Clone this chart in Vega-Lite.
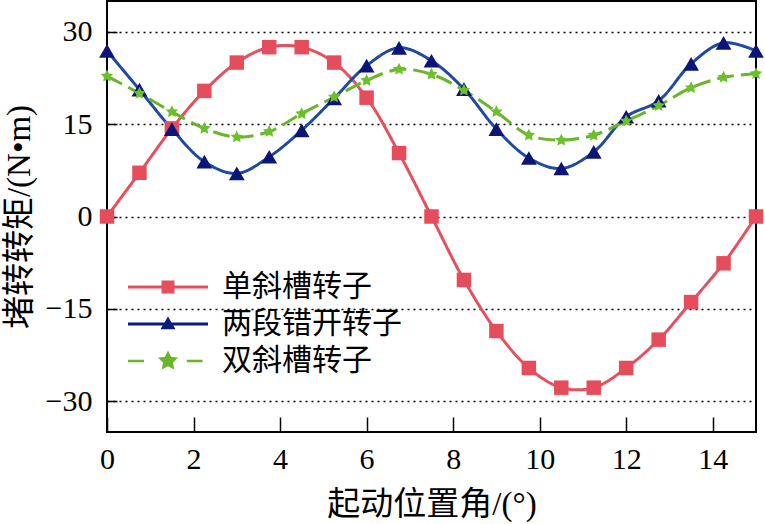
{
  "$schema": "https://vega.github.io/schema/vega-lite/v6.json",
  "width": 649,
  "height": 431,
  "autosize": "none",
  "padding": {"left": 107, "top": 1, "right": 9, "bottom": 92},
  "background": "white",
  "data": {
    "values": [
      {"x": 0, "y": 0, "s": "单斜槽转子"},
      {"x": 0.75, "y": 7.1, "s": "单斜槽转子"},
      {"x": 1.5, "y": 14.3, "s": "单斜槽转子"},
      {"x": 2.25, "y": 20.4, "s": "单斜槽转子"},
      {"x": 3, "y": 25, "s": "单斜槽转子"},
      {"x": 3.75, "y": 27.5, "s": "单斜槽转子"},
      {"x": 4.5, "y": 27.5, "s": "单斜槽转子"},
      {"x": 5.25, "y": 25, "s": "单斜槽转子"},
      {"x": 6, "y": 19.3, "s": "单斜槽转子"},
      {"x": 6.75, "y": 10.3, "s": "单斜槽转子"},
      {"x": 7.5, "y": 0, "s": "单斜槽转子"},
      {"x": 8.25, "y": -10.3, "s": "单斜槽转子"},
      {"x": 9, "y": -18.6, "s": "单斜槽转子"},
      {"x": 9.75, "y": -24.6, "s": "单斜槽转子"},
      {"x": 10.5, "y": -27.8, "s": "单斜槽转子"},
      {"x": 11.25, "y": -27.8, "s": "单斜槽转子"},
      {"x": 12, "y": -24.6, "s": "单斜槽转子"},
      {"x": 12.75, "y": -20, "s": "单斜槽转子"},
      {"x": 13.5, "y": -13.9, "s": "单斜槽转子"},
      {"x": 14.25, "y": -7.6, "s": "单斜槽转子"},
      {"x": 15, "y": 0, "s": "单斜槽转子"},
      {"x": 0, "y": 26.9, "s": "两段错开转子"},
      {"x": 0.75, "y": 20.6, "s": "两段错开转子"},
      {"x": 1.5, "y": 14.2, "s": "两段错开转子"},
      {"x": 2.25, "y": 8.9, "s": "两段错开转子"},
      {"x": 3, "y": 7.0, "s": "两段错开转子"},
      {"x": 3.75, "y": 9.7, "s": "两段错开转子"},
      {"x": 4.5, "y": 14.0, "s": "两段错开转子"},
      {"x": 5.25, "y": 19.2, "s": "两段错开转子"},
      {"x": 6, "y": 24.5, "s": "两段错开转子"},
      {"x": 6.75, "y": 27.4, "s": "两段错开转子"},
      {"x": 7.5, "y": 25.3, "s": "两段错开转子"},
      {"x": 8.25, "y": 20.7, "s": "两段错开转子"},
      {"x": 9, "y": 14.2, "s": "两段错开转子"},
      {"x": 9.75, "y": 9.5, "s": "两段错开转子"},
      {"x": 10.5, "y": 7.8, "s": "两段错开转子"},
      {"x": 11.25, "y": 10.5, "s": "两段错开转子"},
      {"x": 12, "y": 16.2, "s": "两段错开转子"},
      {"x": 12.75, "y": 18.8, "s": "两段错开转子"},
      {"x": 13.5, "y": 24.8, "s": "两段错开转子"},
      {"x": 14.25, "y": 28.2, "s": "两段错开转子"},
      {"x": 15, "y": 26.9, "s": "两段错开转子"},
      {"x": 0, "y": 22.8, "s": "双斜槽转子"},
      {"x": 0.75, "y": 20.0, "s": "双斜槽转子"},
      {"x": 1.5, "y": 17.0, "s": "双斜槽转子"},
      {"x": 2.25, "y": 14.3, "s": "双斜槽转子"},
      {"x": 3, "y": 12.9, "s": "双斜槽转子"},
      {"x": 3.75, "y": 13.8, "s": "双斜槽转子"},
      {"x": 4.5, "y": 16.7, "s": "双斜槽转子"},
      {"x": 5.25, "y": 19.4, "s": "双斜槽转子"},
      {"x": 6, "y": 22.1, "s": "双斜槽转子"},
      {"x": 6.75, "y": 23.9, "s": "双斜槽转子"},
      {"x": 7.5, "y": 23.1, "s": "双斜槽转子"},
      {"x": 8.25, "y": 20.5, "s": "双斜槽转子"},
      {"x": 9, "y": 17.0, "s": "双斜槽转子"},
      {"x": 9.75, "y": 13.2, "s": "双斜槽转子"},
      {"x": 10.5, "y": 12.4, "s": "双斜槽转子"},
      {"x": 11.25, "y": 13.2, "s": "双斜槽转子"},
      {"x": 12, "y": 15.5, "s": "双斜槽转子"},
      {"x": 12.75, "y": 18.0, "s": "双斜槽转子"},
      {"x": 13.5, "y": 20.9, "s": "双斜槽转子"},
      {"x": 14.25, "y": 22.6, "s": "双斜槽转子"},
      {"x": 15, "y": 23.2, "s": "双斜槽转子"}
    ]
  },
  "encoding": {
    "x": {
      "field": "x",
      "type": "quantitative",
      "scale": {"domain": [0, 15], "nice": false, "zero": false},
      "axis": {
        "values": [0, 2, 4, 6, 8, 10, 12, 14],
        "tickSize": -15,
        "labelPadding": 27,
        "labelFlush": false,
        "grid": false,
        "title": "起动位置角/(°)",
        "titlePadding": 14
      }
    },
    "y": {
      "field": "y",
      "type": "quantitative",
      "scale": {"domain": [-35, 35], "nice": false, "zero": false},
      "axis": {
        "values": [-30, -15, 0, 15, 30],
        "tickSize": -10,
        "labelPadding": 25,
        "labelFlush": false,
        "grid": true,
        "gridDash": [2, 4],
        "gridColor": "#000",
        "gridWidth": 1.3,
        "title": "堵转转矩/(N•m)",
        "titlePadding": 9
      }
    }
  },
  "layer": [
    {
      "mark": {"type": "line", "interpolate": "catmull-rom", "strokeWidth": 3},
      "encoding": {
        "stroke": {
          "field": "s",
          "type": "nominal",
          "scale": {
            "domain": ["单斜槽转子", "两段错开转子", "双斜槽转子"],
            "range": ["#e5505e", "#1f4aa0", "#6bb52b"]
          },
          "legend": {
            "orient": "none",
            "legendX": 46,
            "legendY": 271,
            "title": null,
            "padding": 0,
            "symbolSize": 900,
            "labelFont": "Noto Sans CJK SC",
            "labelFontSize": 30,
            "labelLimit": 0,
            "labelColor": "#000",
            "labelOffset": 39,
            "rowPadding": 7,
            "encode": {
              "symbols": {
                "update": {
                  "shape": {"signal": "datum.value === '单斜槽转子' ? 'M-2.667,-0.1H2.667V0.1H-2.667Z M-0.433,-0.433H0.433V0.433H-0.433Z' : datum.value === '两段错开转子' ? 'M-2.667,-0.1H2.667V0.1H-2.667Z M0,-0.5L0.5,0.35L-0.5,0.35Z' : 'M-2.667,-0.08H-1.6V0.08H-2.667Z M1.25,-0.08H2.3V0.08H1.25Z M0,-0.7L0.206,-0.283L0.666,-0.216L0.333,0.108L0.411,0.566L0,0.35L-0.411,0.566L-0.333,0.108L-0.666,-0.216L-0.206,-0.283Z'"},
                  "fill": {"signal": "datum.value === '单斜槽转子' ? '#e5505e' : datum.value === '两段错开转子' ? '#0b1a80' : '#6bb52b'"},
                  "strokeWidth": {"value": 0},
                  "opacity": {"value": 1}
                }
              }
            }
          }
        },
        "strokeDash": {
          "field": "s",
          "type": "nominal",
          "scale": {
            "range": [[1, 0], [1, 0], [17, 7]]
          },
          "legend": null
        }
      }
    },
    {
      "mark": {"type": "point", "filled": true, "opacity": 1, "strokeWidth": 0},
      "encoding": {
        "fill": {
          "field": "s",
          "type": "nominal",
          "scale": {
            "range": ["#0b1577", "#e64d5c", "#6cc02a"]
          },
          "legend": null
        },
        "shape": {
          "field": "s",
          "type": "nominal",
          "scale": {
            "range": ["triangle-up", "square", "M0,-1L0.294,-0.405L0.951,-0.309L0.476,0.155L0.588,0.809L0,0.5L-0.588,0.809L-0.476,0.155L-0.951,-0.309L-0.294,-0.405Z"]
          },
          "legend": null
        },
        "size": {
          "field": "s",
          "type": "nominal",
          "scale": {
            "range": [250, 170, 470]
          },
          "legend": null
        }
      }
    }
  ],
  "config": {
    "view": {"stroke": "#000", "strokeWidth": 2},
    "axis": {
      "domain": false,
      "labelFont": "'Liberation Serif', 'Times New Roman', serif",
      "labelFontSize": 30,
      "labelColor": "#000",
      "titleFont": "'Liberation Serif', 'Noto Sans CJK SC', serif",
      "titleFontSize": 33,
      "titleFontWeight": "normal",
      "titleColor": "#000",
      "tickColor": "#000",
      "tickWidth": 1.5
    }
  }
}
